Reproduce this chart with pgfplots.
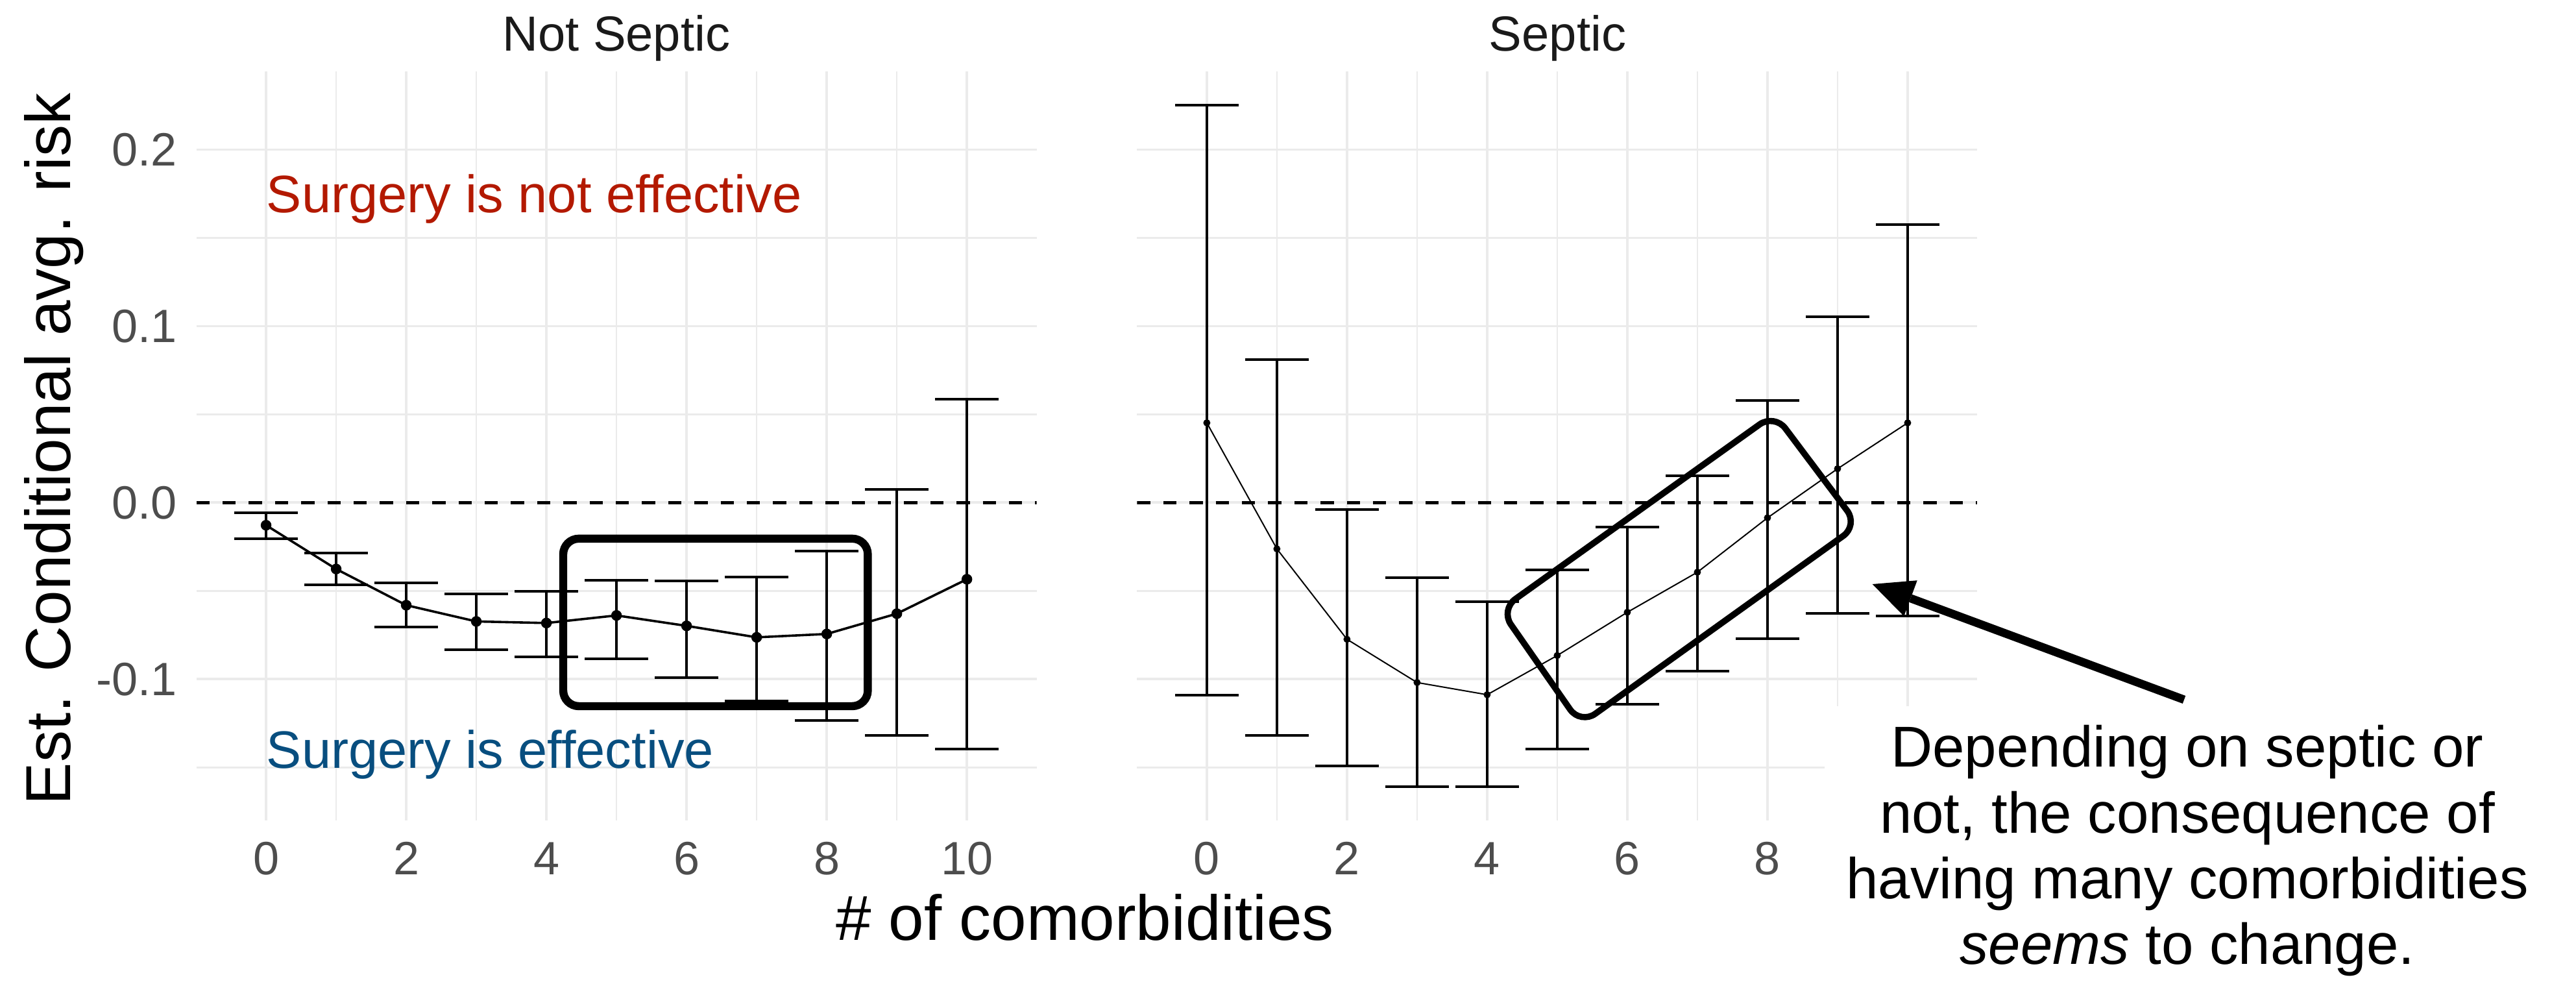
\documentclass[border=0pt]{standalone}
\usepackage{pgfplots}
\pgfplotsset{compat=1.18}
\usepackage{pgfplotstable}
\usepackage{fontspec}
\setmainfont{Liberation Sans}
\usetikzlibrary{arrows.meta}

\definecolor{gridgrey}{HTML}{EBEBEB}
\definecolor{ticktext}{HTML}{4D4D4D}
\definecolor{striptext}{HTML}{1A1A1A}
\definecolor{notered}{RGB}{179,25,0}
\definecolor{noteblue}{RGB}{8,78,127}

% estimated conditional average risk with interval bounds
\pgfplotstableread{
x  y       lo      hi
0  -0.0128 -0.0204 -0.0057
1  -0.0376 -0.0467 -0.0285
2  -0.0581 -0.0706 -0.0453
3  -0.0673 -0.0832 -0.0516
4  -0.0682 -0.0872 -0.0501
5  -0.0639 -0.0885 -0.0440
6  -0.0698 -0.0992 -0.0445
7  -0.0763 -0.1122 -0.0421
8  -0.0744 -0.1233 -0.0275
9  -0.0629 -0.1320  0.0075
10 -0.0434 -0.1394  0.0587
}\notseptic

\pgfplotstableread{
x  y       lo      hi
0   0.0452 -0.1092  0.2251
1  -0.0262 -0.1320  0.0812
2  -0.0774 -0.1490 -0.0038
3  -0.1019 -0.1610 -0.0424
4  -0.1088 -0.1610 -0.0562
5  -0.0866 -0.1394 -0.0382
6  -0.0621 -0.1143 -0.0137
7  -0.0394 -0.0956  0.0153
8  -0.0086 -0.0769  0.0578
9   0.0192 -0.0627  0.1052
10  0.0452 -0.0642  0.1574
}\septic

\pgfplotsset{
  facet/.style={
    scale only axis, width=323.75pt, height=288.625pt,
    xmin=-0.995, xmax=10.995, ymin=-0.1802, ymax=0.2443,
    axis line style={draw=none},
    major tick length=0pt, minor tick length=0pt,
    xtick={0,2,4,6,8,10},
    minor xtick={1,3,5,7,9},
    ytick={-0.1,0,0.1,0.2},
    minor ytick={-0.15,-0.05,0.05,0.15},
    grid=both,
    major grid style={draw=gridgrey, line width=0.95pt},
    minor grid style={draw=gridgrey, line width=0.6pt},
    xticklabels={0,2,4,6,8,10},
    xticklabel style={font=\fontsize{18}{20}\selectfont, text=ticktext,
      anchor=base, inner sep=0pt, yshift=-20.8pt},
    yticklabel style={font=\fontsize{18}{20}\selectfont, text=ticktext,
      anchor=east, inner sep=0pt, xshift=-7.3pt},
  },
  zeroline/.style={black, line width=1.1pt, dash pattern=on 5.1pt off 5pt, forget plot},
  cirisk/.style={black, mark=*,
    error bars/y dir=both, error bars/y explicit,
    error bars/error bar style={line width=1pt, black},
    error bars/error mark=|,
    error bars/error mark options={mark size=12.2pt, line width=1pt, black}},
}

\begin{document}
\begin{tikzpicture}
\useasboundingbox (0,0) rectangle (992.5pt,379pt);

% ---- Not Septic ----
\begin{axis}[facet, at={(75.65pt,62.875pt)}, anchor=south west,
  yticklabels={-0.1,0.0,0.1,0.2}]
  \addplot[zeroline] coordinates {(-0.995,0) (10.995,0)};
  \addplot[cirisk, line width=0.9pt, mark size=1.6pt]
    table[x=x, y=y, y error plus expr=\thisrow{hi}-\thisrow{y},
          y error minus expr=\thisrow{y}-\thisrow{lo}] {\notseptic};
  \draw[line width=3.1pt, rounded corners=6pt]
    (axis cs:4.24,-0.0204) rectangle (axis cs:8.586,-0.1153);
  \node[anchor=base west, inner sep=0pt, text=notered,
        font=\fontsize{20.3}{23}\selectfont] at (axis cs:0,0.1644) {Surgery is not effective};
  \node[anchor=base west, inner sep=0pt, text=noteblue,
        font=\fontsize{20.3}{23}\selectfont] at (axis cs:0,-0.1503) {Surgery is effective};
\end{axis}

% ---- Septic ----
\begin{axis}[facet, at={(438.1pt,62.875pt)}, anchor=south west,
  yticklabels={}]
  \addplot[zeroline] coordinates {(-0.995,0) (10.995,0)};
  \addplot[cirisk, line width=0.5pt, mark size=1.1pt]
    table[x=x, y=y, y error plus expr=\thisrow{hi}-\thisrow{y},
          y error minus expr=\thisrow{y}-\thisrow{lo}] {\septic};
  \draw[line width=2.4pt, rounded corners=7pt]
    (axis cs:4.191,-0.0606) -- (axis cs:5.332,-0.1256) --
    (axis cs:9.293,-0.0128) -- (axis cs:8.099,0.0503) -- cycle;
\end{axis}

% facet strip titles
\node[anchor=base, inner sep=0pt, text=striptext,
      font=\fontsize{19}{22}\selectfont] at (237.5pt,359.25pt) {Not Septic};
\node[anchor=base, inner sep=0pt, text=striptext,
      font=\fontsize{19}{22}\selectfont] at (600.1pt,359.25pt) {Septic};

% axis titles
\node[anchor=base, inner sep=0pt, font=\fontsize{24.5}{28}\selectfont]
  at (418pt,16.75pt) {\# of comorbidities};
\node[anchor=base, rotate=90, inner sep=0pt, font=\fontsize{24.5}{28}\selectfont]
  at (27.25pt,206pt) {Est. Conditional avg. risk};

% annotation label with its white backing
\fill[white] (703pt,0pt) rectangle (985pt,107.1pt);
\node[anchor=base, inner sep=0pt, align=center,
      font=\fontsize{22.2}{25.3}\selectfont] at (842.75pt,7.6pt)
  {Depending on septic or\\ not, the consequence of\\
   having many comorbidities\\ \textit{seems} to change.};

\draw[line width=3.2pt,
      -{Triangle[length=15.7pt, width=14.7pt, line width=0pt]}]
  (841.5pt,109.5pt) -- (721.4pt,154pt);
\end{tikzpicture}
\end{document}
